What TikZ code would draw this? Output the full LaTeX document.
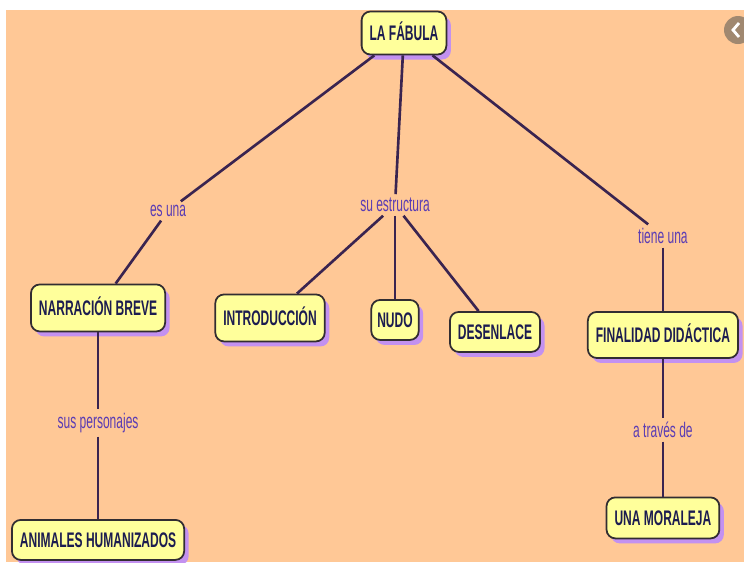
\documentclass[tikz,border=0pt]{standalone}
\usepackage{fontspec}
\newfontfamily\mapfont{Liberation Sans}[FakeStretch=0.57]
\usepackage{tikz}
\usetikzlibrary{positioning,shadows}

\definecolor{peach}{RGB}{255,200,150}
\definecolor{boxyellow}{RGB}{255,255,155}
\definecolor{boxline}{RGB}{50,45,50}
\definecolor{boxtext}{RGB}{28,28,80}
\definecolor{shadowpurple}{RGB}{195,145,240}
\definecolor{linkcol}{RGB}{58,36,80}
\definecolor{labelcol}{RGB}{90,60,180}
\definecolor{iconcol}{RGB}{160,136,112}

\tikzset{
  concept/.style={draw=boxline, line width=1pt, fill=boxyellow, rounded corners=5pt,
    text=boxtext, font=\mapfont\bfseries\fontsize{12}{14}\selectfont,
    inner xsep=0.16cm, minimum height=0.86cm, text height=8.6pt, text depth=0.5pt,
    drop shadow={shadow xshift=0.09cm, shadow yshift=-0.1cm, fill=shadowpurple, opacity=1}},
  linkword/.style={text=labelcol, font=\mapfont\fontsize{12}{14}\selectfont, inner sep=2pt},
  conn/.style={draw=linkcol, line width=1.5pt}
}

\begin{document}
\begin{tikzpicture}[x=0.02cm,y=-0.02cm,node distance=2cm,on grid]
% fondo
\fill[white] (0,0) rectangle (744,562);
\fill[peach] (6,10) rectangle (744,562);
\useasboundingbox (0,0) rectangle (744,562);
\begin{scope}
\clip (0,0) rectangle (744,562);
\fill[iconcol] (738,30) circle (14);
\draw[white, line width=1.6pt] (739,23) -- (733,30) -- (739,37);
\end{scope}

\node[concept] (fabula) at (404,33) {LA FÁBULA};
\node[linkword] (esuna) [below left=3.56cm and 4.72cm of fabula] {es una};
\node[linkword] (estructura) [below left=3.44cm and 0.18cm of fabula] {su estructura};
\node[linkword] (tieneuna) [below right=4.06cm and 5.18cm of fabula] {tiene una};

\node[concept, minimum height=0.94cm] (narracion) [below left=1.94cm and 1.40cm of esuna] {NARRACIÓN BREVE};
\node[concept, minimum height=0.94cm] (intro) [below left=2.26cm and 2.5cm of estructura] {INTRODUCCIÓN};
\node[concept, minimum height=0.8cm, inner xsep=0.12cm] (nudo) [below=2.3cm of estructura] {NUDO};
\node[concept, minimum height=0.8cm] (desenlace) [below right=2.54cm and 2.0cm of estructura] {DESENLACE};
\node[concept, minimum height=0.92cm] (finalidad) [below=1.98cm of tieneuna] {FINALIDAD DIDÁCTICA};

\node[linkword] (personajes) [below=2.3cm of narracion] {sus personajes};
\node[concept, minimum height=0.8cm] (animales) [below=2.34cm of personajes] {ANIMALES HUMANIZADOS};
\node[linkword] (traves) [below=1.9cm of finalidad] {a través de};
\node[concept, minimum height=0.82cm] (moraleja) [below=1.76cm of traves] {UNA MORALEJA};

\path[conn]
  (fabula) edge (esuna) edge (estructura) edge (tieneuna)
  (esuna) edge (narracion)
  (estructura) edge (intro) edge (nudo) edge (desenlace)
  (tieneuna) edge (finalidad)
  (narracion) edge (personajes)
  (personajes) edge (animales)
  (finalidad) edge (traves)
  (traves) edge (moraleja)
  ;
\end{tikzpicture}
\end{document}
